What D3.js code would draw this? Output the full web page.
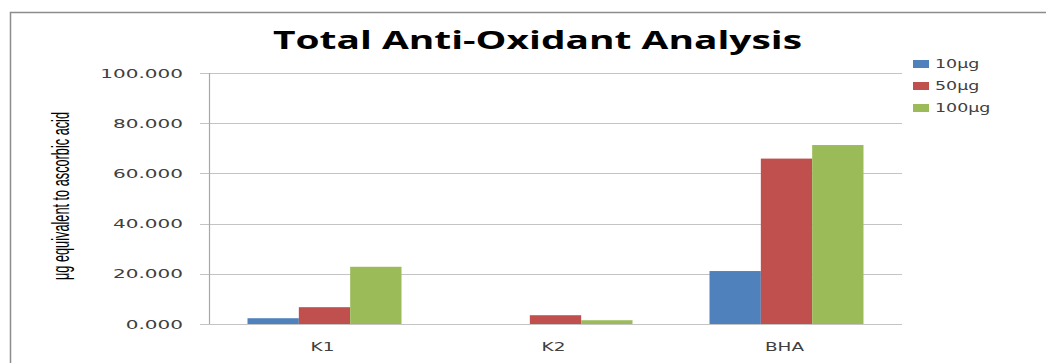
<!DOCTYPE html>
<html><head><meta charset="utf-8">
<script src="https://cdn.jsdelivr.net/npm/d3@7"></script>
<style>body{margin:0;background:#fff}svg{display:block}</style>
</head><body>
<svg id="c" width="1046" height="363"></svg>
<script>
const categories = ["K1", "K2", "BHA"];
const seriesNames = ["10\u03bcg", "50\u03bcg", "100\u03bcg"];
const values10 = [2.3, 0, 21.1];
const values50 = [6.7, 3.5, 65.9];
const values100 = [22.8, 1.5, 71.3];
const yTicks = [0, 20, 40, 60, 80, 100];
const colors = ["#4F81BD", "#C0504D", "#9BBB59"];
const seriesValues = [values10, values50, values100];

const svg = d3.select("#c");
const SX = 1.6; // horizontal stretch of the original picture

// outer frame
svg.append("path").attr("d", "M10.5,363 V12.5 H1046").attr("fill", "none").attr("stroke", "#8c8c8c").attr("stroke-width", 1.5);

const x0 = d3.scaleBand().domain(categories).range([209, 902]).paddingInner(1/3).paddingOuter(1/6);
const x1 = d3.scaleBand().domain(seriesNames).range([0, x0.bandwidth()]);
const y = d3.scaleLinear().domain([0, 100]).range([324, 73]);

// gridlines
svg.append("g").selectAll("line").data(yTicks).join("line")
  .attr("x1", 200).attr("x2", 902)
  .attr("y1", d => Math.round(y(d)) + 0.5).attr("y2", d => Math.round(y(d)) + 0.5)
  .attr("stroke", "#c4c4c4").attr("stroke-width", 1.2);

// y axis line
svg.append("line").attr("x1", 209.5).attr("x2", 209.5).attr("y1", y(100)).attr("y2", y(0))
  .attr("stroke", "#a8a8a8").attr("stroke-width", 1.2);

// bars
const rows = categories.map((c, i) => ({cat: c, vals: seriesValues.map((s, j) => ({name: seriesNames[j], v: s[i], j}))}));
svg.append("g").selectAll("g").data(rows).join("g")
  .attr("transform", d => `translate(${x0(d.cat)},0)`)
  .selectAll("rect").data(d => d.vals).join("rect")
  .attr("x", d => x1(d.name)).attr("width", x1.bandwidth())
  .attr("y", d => y(d.v)).attr("height", d => y(0) - y(d.v))
  .attr("fill", d => colors[d.j]);

function stretch(sel, f) {
  sel.each(function() {
    const w = this.getComputedTextLength();
    d3.select(this).attr("textLength", w * f).attr("lengthAdjust", "spacingAndGlyphs");
  });
}

// y tick labels
const yt = svg.append("g").selectAll("text").data(yTicks).join("text")
  .attr("x", 183).attr("y", d => y(d)).attr("dy", "0.36em")
  .attr("text-anchor", "end").attr("font-family", "DejaVu Sans").attr("font-size", 12.5)
  .attr("fill", "#404040").text(d3.format(".3f"));
stretch(yt, SX);

// category labels
const cl = svg.append("g").selectAll("text").data(categories).join("text")
  .attr("x", d => x0(d) + x0.bandwidth() / 2 - 2).attr("y", 347).attr("dy", "0.36em")
  .attr("text-anchor", "middle").attr("font-family", "DejaVu Sans").attr("font-size", 11.5)
  .attr("fill", "#404040").text(d => d);
stretch(cl, SX);

// y axis title
const yl = svg.append("g").attr("transform", `translate(60,196) scale(1.7,1) rotate(-90)`)
  .append("text").attr("text-anchor", "middle").attr("dy", "0.36em")
  .attr("font-family", "Liberation Sans").attr("font-size", 14).attr("fill", "#000")
  .text("\u03bcg equivalent to ascorbic acid");
yl.attr("textLength", 168).attr("lengthAdjust", "spacingAndGlyphs");

// title
const t = svg.append("text").attr("x", 537.5).attr("y", 48.5).attr("text-anchor", "middle")
  .attr("font-family", "Open Sans").attr("font-weight", "bold").attr("font-size", 25)
  .attr("fill", "#000").text("Total Anti-Oxidant Analysis");
t.attr("textLength", 529).attr("lengthAdjust", "spacingAndGlyphs");

// legend
const lg = svg.append("g").selectAll("g").data(seriesNames).join("g")
  .attr("transform", (d, i) => `translate(913,${64 + i * 22})`);
lg.append("rect").attr("x", 0).attr("y", -4).attr("width", 16).attr("height", 8).attr("fill", (d, i) => colors[i]);
const lt = lg.append("text").attr("x", 22).attr("dy", "0.36em").attr("font-family", "DejaVu Sans")
  .attr("font-size", 12).attr("fill", "#404040").text(d => d);
stretch(lt, 1.45);
</script>
</body></html>
